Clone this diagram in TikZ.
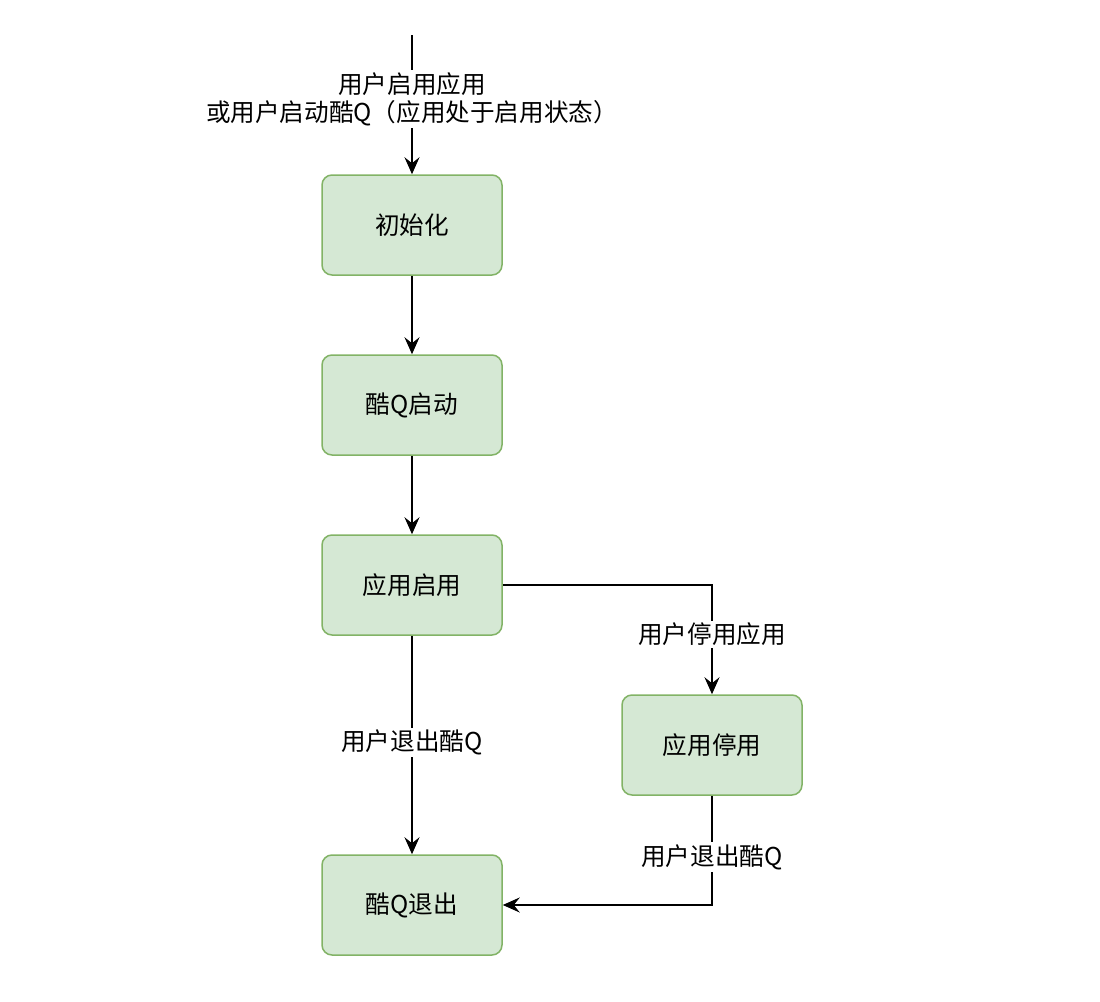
\documentclass[tikz,border=0pt]{standalone}
\usepackage{fontspec}
\setmainfont{Noto Sans CJK SC}
\usetikzlibrary{arrows.meta}
\definecolor{boxfill}{HTML}{D5E8D4}
\definecolor{boxline}{HTML}{82B366}
\begin{document}
\begin{tikzpicture}[x=0.5pt,y=-0.5pt,
  state/.style={draw=boxline,fill=boxfill,rounded corners=5pt,line width=0.75pt,
    minimum width=90pt,minimum height=50pt,font=\fontsize{12.3}{14}\selectfont},
  edge/.style={-{Stealth[length=8.5pt,width=7.5pt,inset=3pt]},line width=1.1pt},
  lbl/.style={fill=white,inner sep=1pt,align=center,font=\fontsize{12.3}{14}\selectfont}]
  \useasboundingbox (0,0) rectangle (1100,1002);
  \node[state] (init) at (412,225) {初始化};
  \node[state] (start) at (412,405) {酷Q启动};
  \node[state] (enable) at (412,585) {应用启用};
  \node[state] (disable) at (712,745) {应用停用};
  \node[state] (quit) at (412,905) {酷Q退出};
  \coordinate (top) at (412,35);
  \draw[edge] (top) -- node[lbl,pos=.46] {用户启用应用\\或用户启动酷Q（应用处于启用状态）} (init);
  \draw[edge] (init) -- (start);
  \draw[edge] (start) -- (enable);
  \draw[edge] (enable) -- node[lbl,pos=.49] {用户退出酷Q} (quit);
  \draw[edge] (enable) -| node[lbl,pos=.727] {用户停用应用} (disable);
  \draw[edge] (disable) |- node[lbl,pos=.28] {用户退出酷Q} (quit);
\end{tikzpicture}
\end{document}
